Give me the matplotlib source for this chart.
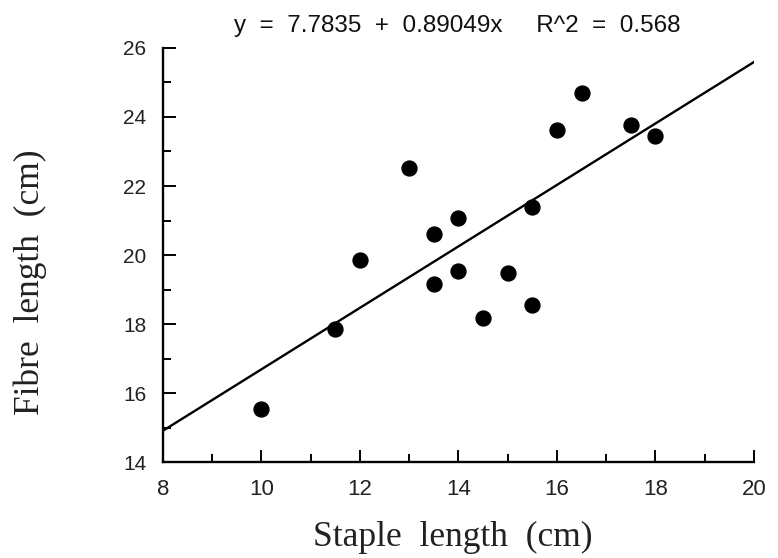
# Scatter of fibre length vs staple length with regression line
import numpy as np
import matplotlib.pyplot as plt

# dati
staple = [10, 11.5, 12, 13, 13.5, 13.5, 14, 14, 14.5, 15, 15.5, 15.5, 16, 16.5, 17.5, 18]
fibre = [15.55, 17.85, 19.85, 22.52, 20.61, 19.16, 21.07, 19.54, 18.16, 19.48, 21.38, 18.55, 23.61, 24.70, 23.77, 23.45]
intercept = 7.7835
slope = 0.89049
r2 = 0.568

fig = plt.figure(figsize=(7.78, 5.58), dpi=100)
ax = fig.add_axes([0.2095, 0.172, 0.7596, 0.742])

ax.scatter(staple, fibre, s=115, color="black", zorder=3)
xl = np.array([8, 20])
ax.plot(xl, intercept + slope * xl, color="black", lw=1.7)

ax.set_xlim(8, 20)
ax.set_ylim(14, 26)
ax.set_xticks(range(8, 21, 2))
ax.set_xticks(range(9, 20, 2), minor=True)
ax.set_yticks(range(14, 27, 2))
ax.set_yticks(range(15, 26, 2), minor=True)

for s in ["top", "right"]:
    ax.spines[s].set_visible(False)
for s in ["left", "bottom"]:
    ax.spines[s].set_linewidth(1.7)

ax.tick_params(which="major", direction="in", length=9, width=1.4)
ax.tick_params(which="minor", direction="in", length=5.5, width=1.4)
ax.tick_params(axis="x", labelsize=16, pad=12)
ax.tick_params(axis="y", labelsize=15, pad=12)
for lab in ax.get_xticklabels() + ax.get_yticklabels():
    lab.set_family("Liberation Sans")
    lab.set_color("#222222")

fig.text(457 / 778, 1 - 26 / 558, "y  =  7.7835  +  0.89049x     R^2  =  0.568",
         fontsize=17.5, family="Liberation Sans", ha="center", va="center", color="#111111")

ax.set_xlabel("Staple  length  (cm)", fontsize=25.5, family="Liberation Serif", color="#222222")
ax.set_ylabel("Fibre  length  (cm)", fontsize=25.5, family="Liberation Serif", color="#222222")
ax.xaxis.set_label_coords(0.49, -0.143)
ax.yaxis.set_label_coords(-0.197, 0.435)

fig.savefig("out.png", dpi=100)
